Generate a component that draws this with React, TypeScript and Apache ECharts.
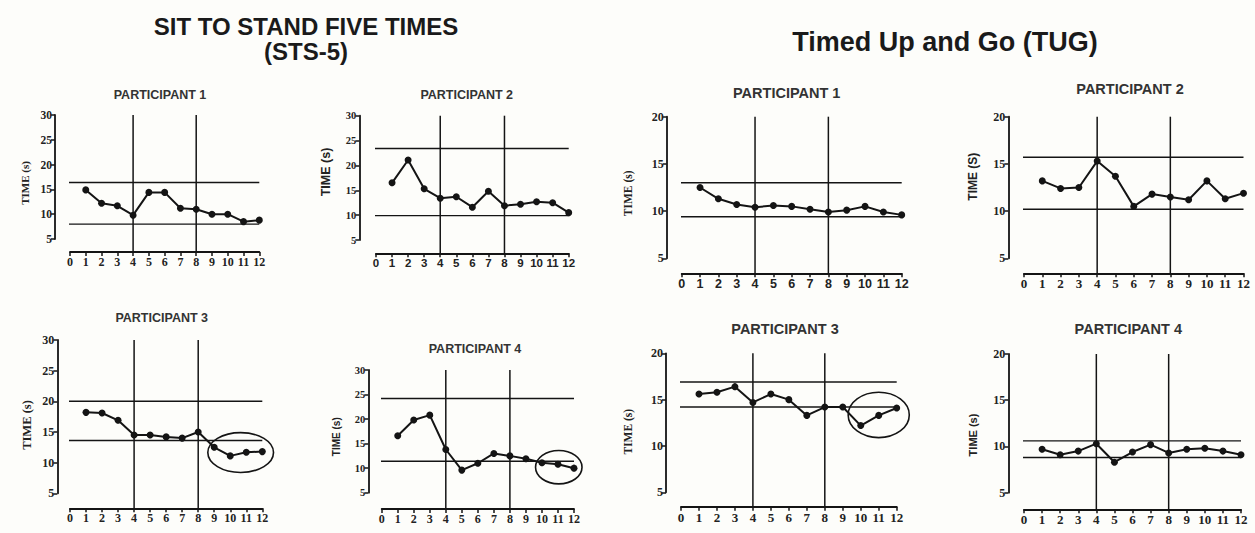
import React, { useEffect, useRef } from "react";
import * as echarts from "echarts";

// ---- data ----
const sessions = [1, 2, 3, 4, 5, 6, 7, 8, 9, 10, 11, 12];
const phaseChanges = [4, 8];

const stsP1 = [14.9, 12.2, 11.7, 9.8, 14.4, 14.4, 11.2, 11.0, 10.0, 10.0, 8.5, 8.8];
const stsP2 = [16.5, 21.1, 15.3, 13.4, 13.7, 11.6, 14.8, 11.9, 12.2, 12.7, 12.5, 10.5];
const stsP3 = [18.2, 18.1, 16.9, 14.5, 14.5, 14.2, 14.0, 15.0, 12.5, 11.1, 11.7, 11.8];
const stsP4 = [16.6, 19.8, 20.8, 13.8, 9.6, 11.0, 13.0, 12.5, 11.9, 11.1, 10.8, 10.0];
const tugP1 = [12.5, 11.3, 10.7, 10.4, 10.6, 10.5, 10.2, 9.9, 10.1, 10.5, 9.9, 9.6];
const tugP2 = [13.2, 12.4, 12.5, 15.3, 13.7, 10.5, 11.8, 11.5, 11.2, 13.2, 11.3, 11.9];
const tugP3 = [15.6, 15.8, 16.4, 14.7, 15.6, 15.0, 13.3, 14.2, 14.2, 12.2, 13.3, 14.1];
const tugP4 = [9.7, 9.1, 9.5, 10.3, 8.3, 9.4, 10.2, 9.3, 9.7, 9.8, 9.5, 9.1];

// band lines (upper, lower)
const stsP1Band = [16.4, 8.0];
const stsP2Band = [23.4, 9.9];
const stsP3Band = [20.0, 13.6];
const stsP4Band = [24.2, 11.4];
const tugP1Band = [13.0, 9.4];
const tugP2Band = [15.7, 10.2];
const tugP3Band = [16.9, 14.2];
const tugP4Band = [10.6, 8.8];

// highlighted regions [xFrom, yTop, xTo, yBottom]
const stsP3Circle = [8.6, 14.9, 12.7, 8.4];
const stsP4Circle = [9.6, 13.6, 12.5, 6.8];
const tugP3Circle = [9.3, 15.8, 12.7, 10.9];

const stsYMax = 30;
const tugYMax = 20;
const yMin = 5;

const SERIF = "'Liberation Serif', 'Times New Roman', serif";
const SANS = "'Liberation Sans', Arial, sans-serif";

type Panel = {
  title: string;
  values: number[];
  band: number[];
  circle?: number[];
  yMax: number;
  yAxisX: number;
  x0: number;
  x12: number;
  yTop: number;
  yBottom: number;
  xAxisY: number;
  titleX: number;
  titleY: number;
  titleSize: number;
  nameText: string;
  nameX: number;
  nameY: number;
  nameFont: string;
  nameSize: number;
  xFont: string;
  xSize: number;
  yFont: string;
  ySize: number;
};

const panels: Panel[] = [
  {
    title: "PARTICIPANT 1", values: stsP1, band: stsP1Band, yMax: stsYMax,
    yAxisX: 55, x0: 70, x12: 259.3, yTop: 115, yBottom: 239, xAxisY: 252,
    titleX: 160, titleY: 95, titleSize: 12.5,
    nameText: "TIME (s)", nameX: 25, nameY: 183, nameFont: SERIF, nameSize: 11,
    xFont: SERIF, xSize: 12, yFont: SERIF, ySize: 11.5,
  },
  {
    title: "PARTICIPANT 2", values: stsP2, band: stsP2Band, yMax: stsYMax,
    yAxisX: 359.3, x0: 376, x12: 568.7, yTop: 115.7, yBottom: 240, xAxisY: 253.3,
    titleX: 466.7, titleY: 95, titleSize: 12.5,
    nameText: "TIME (s)", nameX: 326, nameY: 172, nameFont: SANS, nameSize: 12.5,
    xFont: SANS, xSize: 11.5, yFont: SERIF, ySize: 10.5,
  },
  {
    title: "PARTICIPANT 3", values: stsP3, band: stsP3Band, circle: stsP3Circle, yMax: stsYMax,
    yAxisX: 57.3, x0: 70, x12: 262.3, yTop: 340, yBottom: 493.3, xAxisY: 508.3,
    titleX: 161.7, titleY: 318, titleSize: 12.5,
    nameText: "TIME (s)", nameX: 26.7, nameY: 425, nameFont: SERIF, nameSize: 12.5,
    xFont: SERIF, xSize: 12, yFont: SERIF, ySize: 12,
  },
  {
    title: "PARTICIPANT 4", values: stsP4, band: stsP4Band, circle: stsP4Circle, yMax: stsYMax,
    yAxisX: 368.3, x0: 381.7, x12: 574, yTop: 370, yBottom: 492.7, xAxisY: 509,
    titleX: 475, titleY: 349.3, titleSize: 12.5,
    nameText: "TIME (s)", nameX: 336.7, nameY: 436.7, nameFont: SANS, nameSize: 10,
    xFont: SERIF, xSize: 12, yFont: SERIF, ySize: 10.5,
  },
  {
    title: "PARTICIPANT 1", values: tugP1, band: tugP1Band, yMax: tugYMax,
    yAxisX: 666.7, x0: 681.7, x12: 901.7, yTop: 116.7, yBottom: 258.3, xAxisY: 273.3,
    titleX: 786.7, titleY: 93.3, titleSize: 14.5,
    nameText: "TIME (s)", nameX: 628.3, nameY: 193.3, nameFont: SERIF, nameSize: 11.5,
    xFont: SANS, xSize: 12.5, yFont: SERIF, ySize: 12,
  },
  {
    title: "PARTICIPANT 2", values: tugP2, band: tugP2Band, yMax: tugYMax,
    yAxisX: 1008.3, x0: 1024, x12: 1243.5, yTop: 116.7, yBottom: 258.3, xAxisY: 273.3,
    titleX: 1130, titleY: 89.3, titleSize: 14.5,
    nameText: "TIME (S)", nameX: 973.3, nameY: 176.7, nameFont: SANS, nameSize: 12,
    xFont: SERIF, xSize: 13, yFont: SERIF, ySize: 12,
  },
  {
    title: "PARTICIPANT 3", values: tugP3, band: tugP3Band, circle: tugP3Circle, yMax: tugYMax,
    yAxisX: 666, x0: 681, x12: 896.7, yTop: 353.3, yBottom: 492.3, xAxisY: 506.7,
    titleX: 785, titleY: 329.3, titleSize: 14.5,
    nameText: "TIME (s)", nameX: 628.3, nameY: 431.7, nameFont: SERIF, nameSize: 11.5,
    xFont: SERIF, xSize: 13, yFont: SERIF, ySize: 12,
  },
  {
    title: "PARTICIPANT 4", values: tugP4, band: tugP4Band, yMax: tugYMax,
    yAxisX: 1008.3, x0: 1024, x12: 1241, yTop: 354, yBottom: 492.7, xAxisY: 509.3,
    titleX: 1128.3, titleY: 329.3, titleSize: 14.5,
    nameText: "TIME (s)", nameX: 973.3, nameY: 435, nameFont: SANS, nameSize: 11,
    xFont: SERIF, xSize: 13, yFont: SERIF, ySize: 12,
  },
];

const INK = "#141414";

function buildOption() {
  const grid: any[] = [];
  const xAxis: any[] = [];
  const yAxis: any[] = [];
  const series: any[] = [];
  const graphic: any[] = [];

  panels.forEach((p, i) => {
    const xOffset = p.xAxisY - p.yBottom;
    const yOffset = p.x0 - p.yAxisX;
    const pxPerX = (p.x12 - p.x0) / 12;
    const pxPerY = (p.yBottom - p.yTop) / (p.yMax - yMin);
    const xStart = -yOffset / pxPerX;
    const yFloor = yMin - xOffset / pxPerY;

    grid.push({ left: p.x0, top: p.yTop, width: p.x12 - p.x0, height: p.yBottom - p.yTop });
    xAxis.push({
      type: "value", gridIndex: i, min: 0, max: 12, interval: 1, offset: xOffset,
      axisLine: { show: true, onZero: false, lineStyle: { color: INK, width: 1.8 } },
      axisTick: { show: true, length: 4, lineStyle: { color: INK, width: 1.5 } },
      axisLabel: { fontFamily: p.xFont, fontWeight: "bold", fontSize: p.xSize, color: "#222", margin: 4 },
      splitLine: { show: false },
    });
    yAxis.push({
      type: "value", gridIndex: i, min: yMin, max: p.yMax, interval: 5, offset: yOffset,
      axisLine: { show: true, onZero: false, lineStyle: { color: INK, width: 1.8 } },
      axisTick: { show: true, length: 4, lineStyle: { color: INK, width: 1.5 } },
      axisLabel: { fontFamily: p.yFont, fontWeight: "bold", fontSize: p.ySize, color: "#222", margin: 3 },
      splitLine: { show: false },
    });

    p.band.forEach((v) => {
      series.push({
        type: "line", xAxisIndex: i, yAxisIndex: i, clip: false, silent: true, symbol: "none",
        data: [[xStart, v], [12, v]],
        lineStyle: { color: INK, width: 1.4 }, z: 2,
      });
    });
    phaseChanges.forEach((x) => {
      series.push({
        type: "line", xAxisIndex: i, yAxisIndex: i, clip: false, silent: true, symbol: "none",
        data: [[x, yFloor], [x, p.yMax]],
        lineStyle: { color: INK, width: 1.5 }, z: 2,
      });
    });
    series.push({
      type: "line", xAxisIndex: i, yAxisIndex: i, clip: false,
      data: sessions.map((s, k) => [s, p.values[k]]),
      symbol: "circle", symbolSize: 7,
      lineStyle: { color: INK, width: 2 },
      itemStyle: { color: INK },
      z: 5,
    });
    if (p.circle) {
      series.push({
        type: "custom", xAxisIndex: i, yAxisIndex: i, clip: false, silent: true,
        data: [p.circle],
        renderItem: (_params: any, api: any) => {
          const a = api.coord([api.value(0), api.value(1)]);
          const b = api.coord([api.value(2), api.value(3)]);
          return {
            type: "ellipse",
            shape: {
              cx: (a[0] + b[0]) / 2, cy: (a[1] + b[1]) / 2,
              rx: Math.abs(b[0] - a[0]) / 2, ry: Math.abs(b[1] - a[1]) / 2,
            },
            style: { fill: "none", stroke: INK, lineWidth: 1.6 },
          };
        },
        z: 6,
      });
    }

    graphic.push({
      type: "text", x: p.titleX, y: p.titleY,
      style: {
        text: p.title, align: "center", verticalAlign: "middle",
        font: `bold ${p.titleSize}px ${SANS}`, fill: "#333",
      },
    });
    graphic.push({
      type: "text", x: p.nameX, y: p.nameY, rotation: Math.PI / 2,
      style: {
        text: p.nameText, align: "center", verticalAlign: "middle",
        font: `bold ${p.nameSize}px ${p.nameFont}`, fill: "#222",
      },
    });
  });

  graphic.push({
    type: "text", x: 306, y: 26,
    style: { text: "SIT TO STAND FIVE TIMES", align: "center", verticalAlign: "middle", font: `bold 24px ${SANS}`, fill: "#1a1a1a" },
  });
  graphic.push({
    type: "text", x: 306, y: 51.5,
    style: { text: "(STS-5)", align: "center", verticalAlign: "middle", font: `bold 24px ${SANS}`, fill: "#1a1a1a" },
  });
  graphic.push({
    type: "text", x: 945, y: 42,
    style: { text: "Timed Up and Go (TUG)", align: "center", verticalAlign: "middle", font: `bold 27px ${SANS}`, fill: "#1a1a1a" },
  });

  return {
    animation: false,
    backgroundColor: "#fdfdfa",
    grid, xAxis, yAxis, series, graphic,
  };
}

export default function App() {
  const ref = useRef<HTMLDivElement>(null);
  useEffect(() => {
    if (!ref.current) return;
    const chart = echarts.init(ref.current, undefined, { renderer: "svg" });
    chart.setOption(buildOption() as any);
    return () => chart.dispose();
  }, []);
  return (
    <div
      ref={ref}
      style={{ position: "absolute", left: 0, top: 0, width: 1255, height: 533 }}
    />
  );
}
